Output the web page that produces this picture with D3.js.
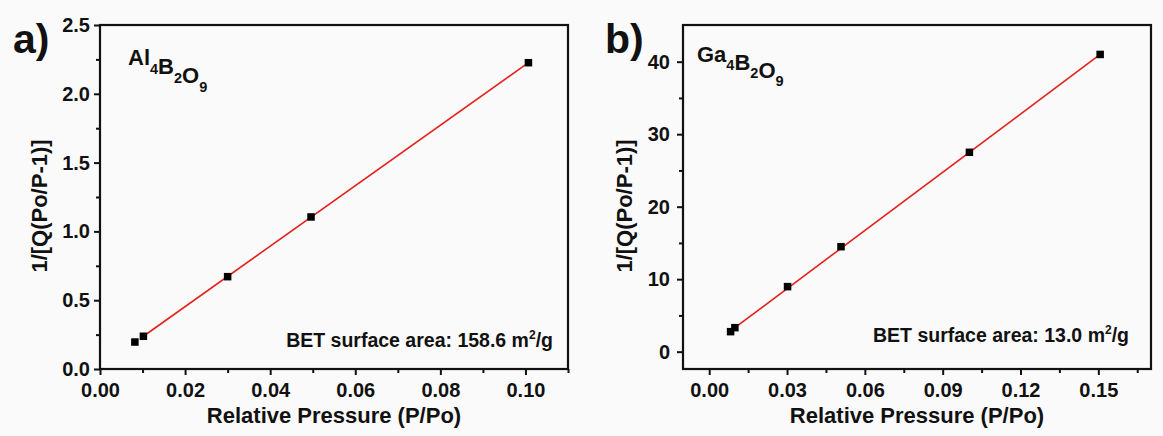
<!DOCTYPE html>
<html lang="en">
<head>
  <meta charset="UTF-8">
  <title>BET plots</title>
  <script src="https://d3js.org/d3.v7.min.js"></script>
  <style>
    body {
      margin: 0;
      background: #fafafa;
      font-family: "Liberation Sans", Arial, sans-serif;
    }
    svg text {
      font-weight: bold;
      fill: #111;
    }
    .axis path, .axis line {
      stroke: #111;
      stroke-width: 2;
    }
    .axis text {
      font-size: 20px;
      font-family: "Liberation Sans", Arial, sans-serif;
    }
    .fit {
      fill: none;
      stroke: #e3211d;
      stroke-width: 1.6;
    }
  </style>
</head>
<body>
  <svg id="chart" width="1163" height="436"></svg>

  <script>
    // panel a: Al4B2O9
    const pressureA = [0.0082, 0.0102, 0.0300, 0.0496, 0.1007];
    const valueA = [0.196, 0.238, 0.671, 1.105, 2.226];
    const fitXA = [0.0102, 0.1007];
    const fitYA = [0.238, 2.226];
    const xTicksA = [0, 0.02, 0.04, 0.06, 0.08, 0.10];
    const yTicksA = [0, 0.5, 1.0, 1.5, 2.0, 2.5];

    // panel b: Ga4B2O9
    const pressureB = [0.00825, 0.0099, 0.0302, 0.0508, 0.1003, 0.1507];
    const valueB = [2.76, 3.31, 8.97, 14.48, 27.5, 41.0];
    const fitXB = [0.0099, 0.1507];
    const fitYB = [3.31, 41.0];
    const xTicksB = [0, 0.03, 0.06, 0.09, 0.12, 0.15];
    const yTicksB = [0, 10, 20, 30, 40];

    const svg = d3.select("#chart");
    const plotTop = 25, plotBottom = 369;

    function panel(opt) {
      const x = d3.scaleLinear().domain(opt.xDomain).range([opt.left, opt.right]);
      const y = d3.scaleLinear().domain(opt.yDomain).range([plotBottom, plotTop]);
      const g = svg.append("g");

      // minor ticks
      g.append("g").attr("class", "axis")
        .attr("transform", `translate(0,${plotBottom})`)
        .call(d3.axisBottom(x).tickValues(opt.xMinor).tickSize(4).tickFormat("").tickSizeOuter(0))
        .select(".domain").remove();
      g.append("g").attr("class", "axis")
        .attr("transform", `translate(${opt.left},0)`)
        .call(d3.axisLeft(y).tickValues(opt.yMinor).tickSize(4).tickFormat("").tickSizeOuter(0))
        .select(".domain").remove();

      // major ticks
      g.append("g").attr("class", "axis")
        .attr("transform", `translate(0,${plotBottom})`)
        .call(d3.axisBottom(x).tickValues(opt.xTicks).tickSize(6).tickPadding(8)
          .tickFormat(d3.format(".2f")).tickSizeOuter(0))
        .select(".domain").remove();
      g.append("g").attr("class", "axis")
        .attr("transform", `translate(${opt.left},0)`)
        .call(d3.axisLeft(y).tickValues(opt.yTicks).tickSize(6).tickPadding(opt.yPad)
          .tickFormat(opt.yFormat).tickSizeOuter(0))
        .select(".domain").remove();

      // frame
      g.append("rect")
        .attr("x", opt.left).attr("y", plotTop)
        .attr("width", opt.right - opt.left).attr("height", plotBottom - plotTop)
        .attr("fill", "none").attr("stroke", "#111").attr("stroke-width", 2.2);

      // fit line
      g.append("path").attr("class", "fit")
        .attr("d", d3.line().x(d => x(d[0])).y(d => y(d[1]))(d3.zip(opt.fitX, opt.fitY)));

      // points
      g.selectAll(".pt").data(d3.zip(opt.px, opt.py)).join("rect")
        .attr("x", d => x(d[0]) - 3.75).attr("y", d => y(d[1]) - 3.75)
        .attr("width", 7.5).attr("height", 7.5).attr("fill", "#000");

      // panel letter
      g.append("text").attr("x", opt.letterX).attr("y", 53)
        .attr("font-size", 41).text(opt.letter);

      // compound name
      const name = g.append("text").attr("x", opt.left + opt.nameDx).attr("y", opt.nameY)
        .attr("font-size", 22);
      opt.name.forEach(([t, sub]) => {
        name.append("tspan").text(t);
        name.append("tspan").attr("font-size", 14.5).attr("dy", opt.subDy).text(sub);
        name.append("tspan").attr("dy", -opt.subDy).text("");
      });

      // BET annotation
      const bet = g.append("text").attr("x", opt.betX).attr("y", opt.betY)
        .attr("text-anchor", "end").attr("font-size", 19.5);
      bet.append("tspan").text(opt.bet + " m");
      bet.append("tspan").attr("font-size", 12).attr("dy", -8).text("2");
      bet.append("tspan").attr("dy", 8).text("/g");

      // axis titles
      g.append("text")
        .attr("x", (opt.left + opt.right) / 2).attr("y", 423)
        .attr("text-anchor", "middle").attr("font-size", 22)
        .text("Relative Pressure (P/Po)");
      g.append("text")
        .attr("transform", `translate(${opt.yTitleX},206) rotate(-90)`)
        .attr("text-anchor", "middle").attr("font-size", 22)
        .text("1/[Q(Po/P-1)]");
    }

    panel({
      left: 100, right: 568,
      xDomain: [0, 0.11], yDomain: [0, 2.5],
      xTicks: xTicksA, yTicks: yTicksA,
      xMinor: d3.range(0.01, 0.111, 0.02), yMinor: d3.range(0.25, 2.5, 0.5),
      yFormat: d3.format(".1f"), yPad: 4,
      px: pressureA, py: valueA, fitX: fitXA, fitY: fitYA,
      letter: "a)", letterX: 13,
      name: [["Al", "4"], ["B", "2"], ["O", "9"]], nameDx: 28, nameY: 65, subDy: 9,
      bet: "BET surface area: 158.6", betX: 553, betY: 347,
      yTitleX: 47
    });

    panel({
      left: 683, right: 1151,
      xDomain: [-0.0101, 0.1703], yDomain: [-2.39, 45.06],
      xTicks: xTicksB, yTicks: yTicksB,
      xMinor: d3.range(0.015, 0.17, 0.03), yMinor: d3.range(5, 45, 10),
      yFormat: d3.format("d"), yPad: 7,
      px: pressureB, py: valueB, fitX: fitXB, fitY: fitYB,
      letter: "b)", letterX: 605,
      name: [["Ga", "4"], ["B", "2"], ["O", "9"]], nameDx: 14, nameY: 62, subDy: 8,
      bet: "BET surface area: 13.0", betX: 1129, betY: 342,
      yTitleX: 632
    });
  </script>
</body>
</html>
